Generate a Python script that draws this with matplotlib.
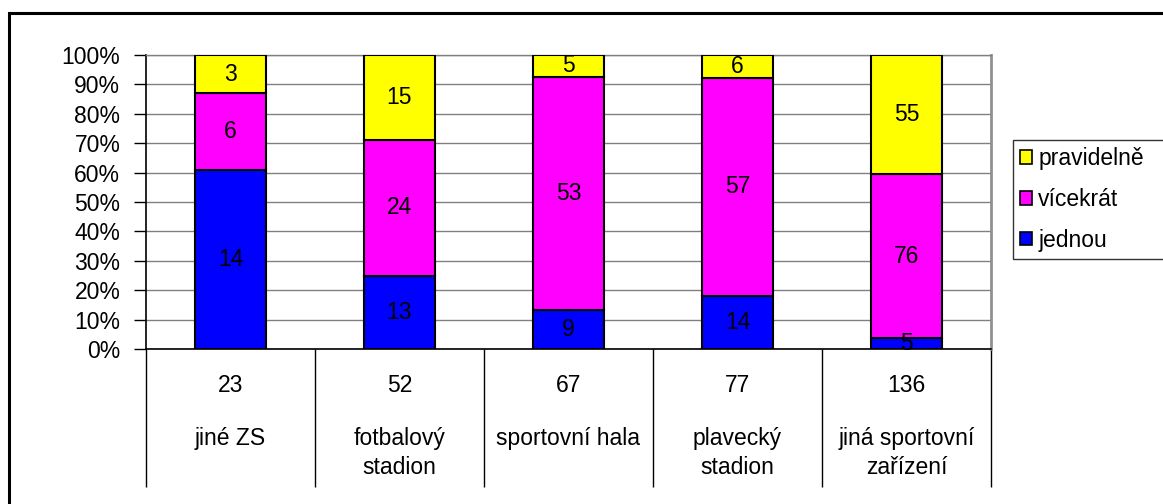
import matplotlib
matplotlib.use("Agg")
import matplotlib.pyplot as plt
import numpy as np
from matplotlib.patches import Rectangle, Patch

plt.rcParams['font.family'] = ['Liberation Sans', 'DejaVu Sans']

categories = ["jiné ZS", "fotbalový\nstadion", "sportovní hala", "plavecký\nstadion", "jiná sportovní\nzařízení"]
jednou = [14, 13, 9, 14, 5]
vicekrat = [6, 24, 53, 57, 76]
pravidelne = [3, 15, 5, 6, 55]
series_names = ["jednou", "vícekrát", "pravidelně"]
series_colors = ["#0000FF", "#FF00FF", "#FFFF00"]
yticks = [0, 10, 20, 30, 40, 50, 60, 70, 80, 90, 100]

W, H = 1163, 504
fig = plt.figure(figsize=(W / 100, H / 100), dpi=100)
ax = fig.add_axes([146 / W, 1 - 349 / H, (991 - 146) / W, (349 - 55) / H])

fs = 16.5
series = [np.array(jednou, float), np.array(vicekrat, float), np.array(pravidelne, float)]
totals = series[0] + series[1] + series[2]
x = np.arange(len(categories))
bottom = np.zeros(len(categories))
for vals, name, col in zip(series, series_names, series_colors):
    pct = vals / totals * 100
    ax.bar(x, pct, 0.42, bottom=bottom, color=col, edgecolor="black", linewidth=1.5, zorder=3)
    for xi, b, p, v in zip(x, bottom, pct, vals):
        ax.text(xi, b + p / 2, f"{int(v)}", ha="center", va="center", fontsize=fs, zorder=4)
    bottom = bottom + pct

ax.set_xlim(-0.5, len(categories) - 0.5)
ax.set_ylim(0, 100)
ax.set_yticks(yticks)
ax.set_yticklabels([f"{t}%" for t in yticks], fontsize=fs)
ax.yaxis.grid(True, color="#808080", linewidth=1, zorder=0)
ax.tick_params(axis="y", direction="out", length=9, width=1, pad=9.5, color="black")
ax.set_xticks([])
for s in ["left", "bottom"]:
    ax.spines[s].set_color("black")
    ax.spines[s].set_linewidth(1.2)
ax.spines["top"].set_color("#808080")
ax.spines["top"].set_linewidth(1)
ax.spines["right"].set_color("#909090")
ax.spines["right"].set_linewidth(2)

# multi-level category axis
trans = ax.get_xaxis_transform()
sep_bottom = -(487 - 349) / (349 - 55)
ax.vlines(np.arange(len(categories) + 1) - 0.5, sep_bottom, 0, transform=trans,
          colors="black", linewidth=1, clip_on=False)
y_tot = -(385 - 349) / (349 - 55)
y_l1 = -(438 - 349) / (349 - 55)
y_l2 = -(467 - 349) / (349 - 55)
for xi, t, c in zip(x, totals, categories):
    ax.text(xi, y_tot, f"{int(t)}", transform=trans, ha="center", va="center", fontsize=fs)
    lines = c.split("\n")
    for li, yy in zip(lines, [y_l1, y_l2]):
        ax.text(xi, yy, li, transform=trans, ha="center", va="center", fontsize=fs)

# legend
handles = [Patch(facecolor=c, edgecolor="black", linewidth=1.2) for c in series_colors[::-1]]
leg = fig.legend(handles, series_names[::-1], loc="upper left",
                 bbox_to_anchor=(1013 / W, 1 - 140 / H, 165 / W, 0), mode="expand",
                 borderaxespad=0,
                 fontsize=fs, frameon=True, fancybox=False, edgecolor="black",
                 handlelength=0.55, handleheight=0.55, handletextpad=0.25,
                 labelspacing=0.78, borderpad=0.3)
leg.get_frame().set_linewidth(1)

# outer frame
fig.patches.append(Rectangle((9 / W, -0.1), 1.2, 1 - 13 / H + 0.1, transform=fig.transFigure,
                             fill=False, edgecolor="black", linewidth=2.2))

fig.savefig("out.png", dpi=100)
